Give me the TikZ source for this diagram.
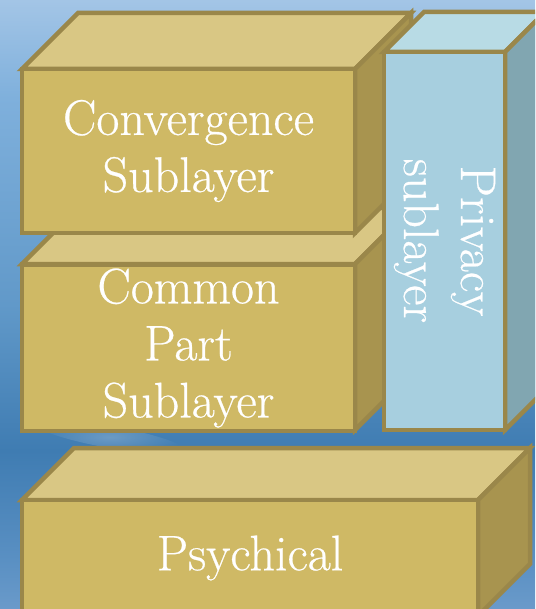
\documentclass[tikz,border=0pt]{standalone}
\usepackage{fontspec}
\usetikzlibrary{fadings}
\newfontfamily\capfont[FakeBold=0.5]{Latin Modern Roman}
\tikzfading[name=softspot, inner color=transparent!0, outer color=transparent!100]
\definecolor{bgA}{HTML}{6A9ACA}
\definecolor{bgB}{HTML}{5A90C3}
\definecolor{bgC}{HTML}{3F7CB2}
\definecolor{bgD}{HTML}{6199C9}
\definecolor{bgE}{HTML}{7FB0DC}
\definecolor{bgF}{HTML}{A3C5E6}
\definecolor{cEdge}{HTML}{9A874A}
\definecolor{cGoldFront}{HTML}{CFB965}
\definecolor{cGoldTop}{HTML}{D9C784}
\definecolor{cGoldSide}{HTML}{A8944F}
\definecolor{cSkyFront}{HTML}{A7CFDF}
\definecolor{cSkyTop}{HTML}{B8DBE5}
\definecolor{cSkySide}{HTML}{81A6B1}
% vertical backdrop: darker band in the lower third, lighter towards the top
\pgfdeclareverticalshading{backdrop}{100bp}{%
  color(0bp)=(bgA); color(25bp)=(bgA); color(29bp)=(bgB); color(38bp)=(bgC);
  color(50bp)=(bgD); color(67bp)=(bgE); color(75bp)=(bgF); color(100bp)=(bgF)}
\tikzset{
  facet/.style={draw=cEdge, line width=4.5pt, line join=miter},
  goldfront/.style={facet, fill=cGoldFront, rectangle, outer sep=0pt, inner sep=0pt},
  goldtop/.style={facet, fill=cGoldTop},
  goldside/.style={facet, fill=cGoldSide},
  skyfront/.style={facet, fill=cSkyFront, rectangle, outer sep=0pt, inner sep=0pt},
  skytop/.style={facet, fill=cSkyTop},
  skyside/.style={facet, fill=cSkySide},
  caption/.style={text=white, align=center, font=\capfont\fontsize{50}{57}\selectfont}
}
% top and right faces of a cuboid whose front face is node #1
\newcommand\boxfaces[3]{%
  \filldraw[#3top] (#1.north west) -- ++(#2,-#2) -- ([shift={(#2,-#2)}]#1.north east) -- (#1.north east) -- cycle;
  \filldraw[#3side] (#1.north east) -- ([shift={(#2,-#2)}]#1.north east) -- ([shift={(#2,-#2)}]#1.south east) -- (#1.south east) -- cycle;}
\begin{document}
\begin{tikzpicture}[x=1pt,y=-1pt]
\useasboundingbox (0,0) rectangle (535,609);
\clip (0,0) rectangle (535,609);
\shade[shading=backdrop] (0,0) rectangle (535,609);
% soft light streak across the dark band on the left
\fill[white, opacity=0.22, path fading=softspot] (110,437) ellipse [x radius=75pt, y radius=11pt, rotate=-10];

% common part sublayer (behind the convergence block)
\node[goldfront, minimum width=333pt, minimum height=166pt] (cps) at (188.5,347) {};
\boxfaces{cps}{56}{gold}
\node[goldfront, minimum width=333pt, minimum height=166pt, caption] at (188.5,348) {Common\\Part\\Sublayer};

% convergence sublayer
\node[goldfront, minimum width=333pt, minimum height=164pt] (conv) at (188.5,151) {};
\boxfaces{conv}{56}{gold}
\node[goldfront, minimum width=333pt, minimum height=164pt, caption] (convtxt) at (188.5,151) {Convergence\\Sublayer};

% privacy sublayer, upright column on the right
\node[skyfront, minimum width=121pt, minimum height=378pt] (priv) at (444.5,241) {};
\boxfaces{priv}{40}{sky}
\node[skyfront, minimum width=121pt, minimum height=378pt] at (444.5,241) {};
\node[caption, rotate=-90] (privtxt) at (priv.center) {Privacy\\sublayer};

% physical layer at the bottom
\node[goldfront, minimum width=456pt, minimum height=116pt] (phys) at (250,558) {};
\boxfaces{phys}{52}{gold}
\node[goldfront, minimum width=456pt, minimum height=116pt, caption] (phystxt) at (250,558) {Psychical};
\end{tikzpicture}
\end{document}
